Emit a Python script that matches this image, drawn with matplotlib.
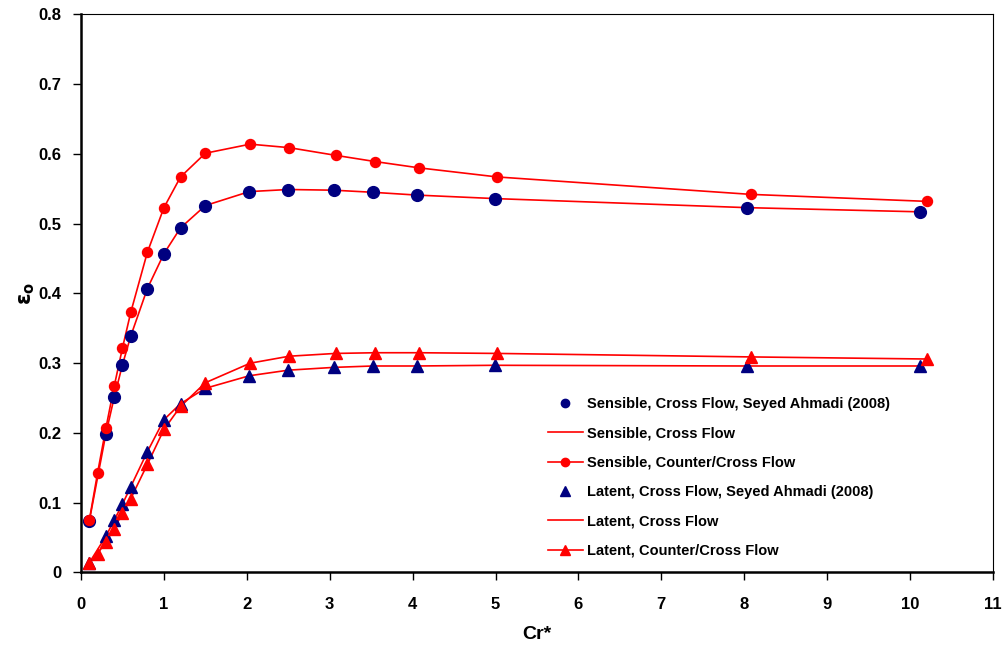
import matplotlib
matplotlib.use('Agg')
import matplotlib.pyplot as plt

plt.rcParams['font.family'] = ['Liberation Sans', 'DejaVu Sans']
plt.rcParams['font.weight'] = 'bold'

# Seyed Ahmadi (2008) points, cross flow
cr_ref = [0.1, 0.3, 0.4, 0.5, 0.6, 0.8, 1.0, 1.2, 1.5, 2.03, 2.5, 3.05, 3.52, 4.05, 4.99, 8.03, 10.12]
sens_ref = [0.074, 0.199, 0.251, 0.298, 0.339, 0.407, 0.457, 0.494, 0.526, 0.546, 0.549, 0.548, 0.545, 0.541, 0.536, 0.523, 0.517]
lat_ref = [0.014, 0.052, 0.075, 0.098, 0.123, 0.173, 0.219, 0.242, 0.264, 0.282, 0.290, 0.294, 0.296, 0.296, 0.297, 0.296, 0.296]

# counter/cross flow model
cr_cc = [0.1, 0.2, 0.3, 0.4, 0.5, 0.6, 0.8, 1.0, 1.2, 1.5, 2.04, 2.51, 3.07, 3.55, 4.08, 5.02, 8.08, 10.2]
sens_cc = [0.075, 0.143, 0.207, 0.267, 0.322, 0.373, 0.459, 0.523, 0.567, 0.601, 0.614, 0.609, 0.598, 0.589, 0.580, 0.567, 0.542, 0.532]
lat_cc = [0.013, 0.027, 0.044, 0.063, 0.085, 0.106, 0.155, 0.205, 0.238, 0.272, 0.300, 0.310, 0.314, 0.315, 0.315, 0.314, 0.309, 0.306]

red = '#ff0000'
navy = '#000080'

fig = plt.figure(figsize=(10.08, 6.55), dpi=100)
ax = fig.add_axes([0.0804, 0.126, 0.9046, 0.852])

# model lines through the reference points
ax.plot(cr_ref, sens_ref, '-', color=red, lw=1.2, zorder=2)
ax.plot(cr_ref, lat_ref, '-', color=red, lw=1.2, zorder=2)
ax.plot(cr_cc, sens_cc, '-', color=red, lw=1.2, zorder=2)
ax.plot(cr_cc, lat_cc, '-', color=red, lw=1.2, zorder=2)

ax.plot(cr_ref, sens_ref, 'o', color=navy, ms=8.5, ls='none', zorder=3)
ax.plot(cr_ref, lat_ref, '^', color=navy, ms=9, ls='none', zorder=3)
ax.plot(cr_cc, sens_cc, 'o', color=red, ms=7.2, ls='none', zorder=4)
ax.plot(cr_cc, lat_cc, '^', color=red, ms=8, ls='none', zorder=4)

# legend handles
h1, = ax.plot([], [], 'o', color=navy, ms=6, ls='none')
h2, = ax.plot([], [], '-', color=red, lw=1.2)
h3, = ax.plot([], [], '-o', color=red, lw=1.2, ms=6)
h4, = ax.plot([], [], '^', color=navy, ms=6.5, ls='none')
h5, = ax.plot([], [], '-', color=red, lw=1.2)
h6, = ax.plot([], [], '-^', color=red, lw=1.2, ms=6.5)
labels = ['Sensible, Cross Flow, Seyed Ahmadi (2008)', 'Sensible, Cross Flow',
          'Sensible, Counter/Cross Flow', 'Latent, Cross Flow, Seyed Ahmadi (2008)',
          'Latent, Cross Flow', 'Latent, Counter/Cross Flow']
ax.legend([h1, h2, h3, h4, h5, h6], labels, loc='upper left',
          bbox_to_anchor=(0.512, 0.314), frameon=False, fontsize=10.5,
          handlelength=2.4, handletextpad=0.3, labelspacing=1.05,
          borderaxespad=0, borderpad=0)

ax.set_xlim(0, 11)
ax.set_ylim(0, 0.8)
ax.set_xticks(range(0, 12))
ax.set_yticks([0, 0.1, 0.2, 0.3, 0.4, 0.5, 0.6, 0.7, 0.8])
ax.set_yticklabels(['0', '0.1', '0.2', '0.3', '0.4', '0.5', '0.6', '0.7', '0.8'])
ax.tick_params(direction='out', length=6, width=1, labelsize=12)
ax.tick_params(axis='x', pad=12)
ax.tick_params(axis='y', pad=8)
for lab in ax.get_xticklabels() + ax.get_yticklabels():
    lab.set_fontweight('bold')

ax.spines['left'].set_linewidth(1.8)
ax.spines['bottom'].set_linewidth(1.8)
ax.spines['top'].set_linewidth(0.8)
ax.spines['right'].set_linewidth(0.8)

ax.set_xlabel('Cr*', fontsize=14, fontweight='bold', labelpad=10)
ax.set_ylabel(r'$\mathbf{\varepsilon_o}$', fontsize=15, labelpad=1)

fig.savefig('out.png', dpi=100)
